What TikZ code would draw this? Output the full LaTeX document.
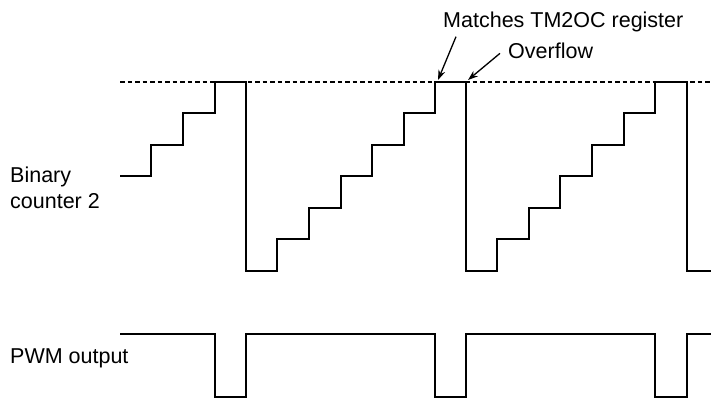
\documentclass[tikz,border=0pt]{standalone}
\usepackage{fontspec}
\setmainfont{Liberation Sans}
\usepackage{tikz}
\usetikzlibrary{arrows.meta,positioning}

\definecolor{inkblack}{RGB}{0,0,0}

\tikzset{
  wave/.style={draw=inkblack, line width=1.4pt, line join=miter},
  limit/.style={draw=inkblack, line width=1.2pt, dash pattern=on 4.5pt off 3pt},
  ptr/.style={draw=inkblack, line width=1.3pt, -{Stealth[length=10pt,width=7pt]}},
  lbl/.style={font=\fontsize{21.5}{26}\selectfont, inner sep=0pt, align=left}
}

\begin{document}
\begin{tikzpicture}[x=1pt, y=-1pt]
    \useasboundingbox (0,0) rectangle (711,400);

    % labels
    \node[lbl, anchor=base west] (counter) at (10,208) {Binary\\counter 2};
    \node[lbl, anchor=base west] (pwm) at (10,363) {PWM output};
    \node[lbl, anchor=base west] (match) at (443,27) {Matches TM2OC register};
    \node[lbl, anchor=base west] (over) at (508,58) {Overflow};

    % top of the count
    \draw[limit] (120,82) -- (711,82);

    % binary counter 2
    \draw[wave] (120,176) -| (151,145) -| (183,113) -| (215,82) -| (246,271)
      -| (277,239) -| (309,208) -| (341,176) -| (372,145) -| (404,113) -| (435,82)
      -| (466,271) -| (497,239) -| (529,208) -| (560,176) -| (592,145) -| (624,113)
      -| (655,82) -| (687,271) -- (711,271);

    % pwm output
    \draw[wave] (120,334) -| (215,397) -| (246,334) -| (435,397) -| (466,334)
      -| (655,397) -| (687,334) -- (711,334);

    % pointers
    \coordinate (hit) at (438,80);
    \coordinate (wrap) at (468,80);
    \draw[ptr] ([xshift=13pt,yshift=-5pt]match.south west) -- (hit);
    \draw[ptr] ([xshift=-8pt,yshift=-3pt]over.west) -- (wrap);
  \end{tikzpicture}
\end{document}
